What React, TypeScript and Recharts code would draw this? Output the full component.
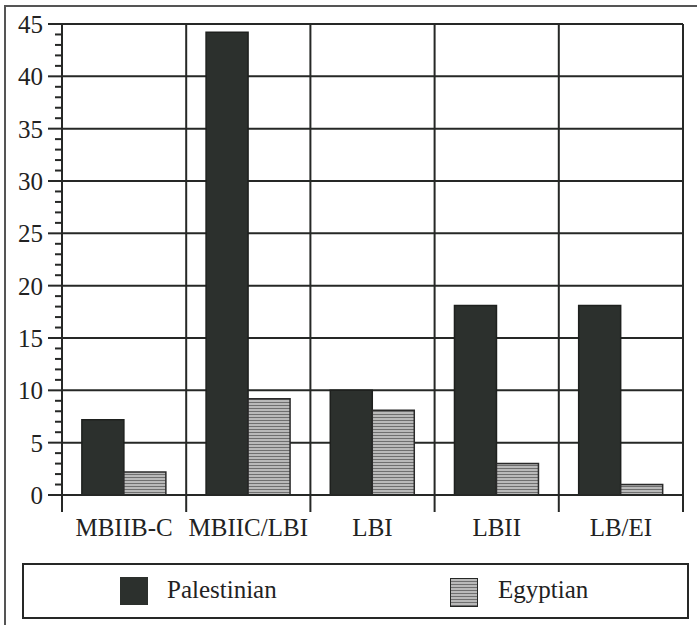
import React from 'react';
import { BarChart, Bar, XAxis, YAxis, CartesianGrid, Legend } from 'recharts';

const categories = ['MBIIB-C', 'MBIIC/LBI', 'LBI', 'LBII', 'LB/EI'];
const palestinian = [7.2, 44.2, 10, 18.1, 18.1];
const egyptian = [2.2, 9.2, 8.1, 3, 1];
const seriesNames = ['Palestinian', 'Egyptian'];
const yMajorTicks = [0, 5, 10, 15, 20, 25, 30, 35, 40, 45];
const yMinorTicks = [
  0, 1, 2, 3, 4, 5, 6, 7, 8, 9, 10, 11, 12, 13, 14, 15, 16, 17, 18, 19, 20, 21, 22,
  23, 24, 25, 26, 27, 28, 29, 30, 31, 32, 33, 34, 35, 36, 37, 38, 39, 40, 41, 42, 43,
  44, 45,
];

const data = categories.map((c, i) => ({
  period: c,
  [seriesNames[0]]: palestinian[i],
  [seriesNames[1]]: egyptian[i],
}));

const INK = '#262826';
const FONT = '"Times New Roman", "Liberation Serif", Tinos, "DejaVu Serif", serif';
const DARK = '#2c302d';

const applyScale = (s: any, v: any): number => {
  if (typeof s === 'function') return s(v);
  if (s && typeof s.map === 'function') return s.map(v);
  if (s && typeof s.scale === 'function') return s.scale(v);
  return NaN;
};

const bandOf = (s: any): number => {
  if (s && typeof s.bandwidth === 'function') return s.bandwidth();
  return NaN;
};

const YTick = (props: any) => {
  const { x, y, payload } = props;
  const v = payload.value;
  const major = v % 5 === 0;
  return (
    <g>
      <line x1={x - (major ? 14 : 7)} x2={x} y1={y} y2={y} stroke={INK} strokeWidth={2} />
      {major && (
        <text x={x - 19} y={y + 9} textAnchor="end" fontSize={25} fontFamily={FONT} fill="#222">
          {v}
        </text>
      )}
    </g>
  );
};

const XTick = (props: any) => {
  const { x, y, payload, index } = props;
  const half = payload && typeof payload.offset === 'number' && payload.offset > 0 ? payload.offset : 0;
  const isLast = index === categories.length - 1;
  return (
    <g>
      {half > 0 && <line x1={x - half} x2={x - half} y1={y} y2={y + 17} stroke={INK} strokeWidth={2} />}
      {half > 0 && isLast && <line x1={x + half} x2={x + half} y1={y} y2={y + 17} stroke={INK} strokeWidth={2} />}
      <text x={x} y={y + 41} textAnchor="middle" fontSize={25} fontFamily={FONT} fill="#222">
        {payload.value}
      </text>
    </g>
  );
};

const LegendBox = () => (
  <div
    style={{
      boxSizing: 'border-box',
      width: 667,
      height: 56,
      border: `2px solid ${INK}`,
      position: 'relative',
      fontFamily: FONT,
      fontSize: 25,
      color: '#222',
      background: '#fff',
    }}
  >
    <div style={{ position: 'absolute', left: 96, top: 12, width: 28, height: 28, background: DARK }} />
    <span style={{ position: 'absolute', left: 143, top: 11, lineHeight: '28px' }}>{seriesNames[0]}</span>
    <svg style={{ position: 'absolute', left: 426, top: 13 }} width={28} height={29}>
      <defs>
        <pattern id="egyPatLegend" width={6} height={3} patternUnits="userSpaceOnUse">
          <rect width={6} height={3} fill="#b9b9b9" />
          <line x1={0} x2={6} y1={0.5} y2={0.5} stroke="#6f6f6f" strokeWidth={1} />
        </pattern>
      </defs>
      <rect x={0.5} y={0.5} width={27} height={28} fill="url(#egyPatLegend)" stroke={INK} strokeWidth={1} />
    </svg>
    <span style={{ position: 'absolute', left: 474, top: 11, lineHeight: '28px' }}>{seriesNames[1]}</span>
  </div>
);

const hGen = (args: any) => {
  const { yAxis, offset } = args;
  const out = yMajorTicks.map((v) => applyScale(yAxis && yAxis.scale, v));
  if (out.every((p) => Number.isFinite(p))) return out;
  return yMajorTicks.map((v) => offset.top + offset.height * (1 - v / 45));
};

const vGen = (args: any) => {
  const { xAxis, offset } = args;
  const s = xAxis && xAxis.scale;
  const starts = categories.map((c) => applyScale(s, c));
  const bw = bandOf(s);
  if (starts.every((p) => Number.isFinite(p)) && Number.isFinite(bw)) {
    return [...starts, starts[starts.length - 1] + bw];
  }
  const n = categories.length;
  return [...categories.map((_, i) => offset.left + (offset.width * i) / n), offset.left + offset.width];
};

export default function App() {
  return (
    <div style={{ position: 'absolute', left: 0, top: 0, width: 697, height: 625, background: '#fff' }}>
      <div style={{ position: 'absolute', left: 4, top: 5, width: 2, height: 620, background: '#555' }} />
      <div style={{ position: 'absolute', left: 4, top: 5, width: 693, height: 2, background: '#555' }} />
      <BarChart
        width={697}
        height={625}
        data={data}
        margin={{ top: 24, right: 14, bottom: 6, left: 0 }}
        barCategoryGap="16%"
        barGap={0}
      >
        <defs>
          <pattern id="egyPat" width={6} height={3} patternUnits="userSpaceOnUse">
            <rect width={6} height={3} fill="#b9b9b9" />
            <line x1={0} x2={6} y1={0.5} y2={0.5} stroke="#6f6f6f" strokeWidth={1} />
          </pattern>
        </defs>
        <CartesianGrid
          stroke={INK}
          strokeWidth={2}
          horizontalCoordinatesGenerator={hGen}
          verticalCoordinatesGenerator={vGen}
        />
        <XAxis
          dataKey="period"
          height={68}
          tickLine={false}
          axisLine={{ stroke: INK, strokeWidth: 2 }}
          tickSize={0}
          tickMargin={0}
          tick={<XTick />}
          interval={0}
        />
        <YAxis
          domain={[0, 45]}
          ticks={yMinorTicks}
          interval={0}
          width={62}
          tickSize={0}
          tickMargin={0}
          tickLine={false}
          axisLine={{ stroke: INK, strokeWidth: 2 }}
          tick={<YTick />}
        />
        <Legend
          verticalAlign="bottom"
          content={<LegendBox />}
          wrapperStyle={{ left: 22, bottom: 6, width: 667, height: 56 }}
        />
        <Bar
          dataKey={seriesNames[0]}
          fill={DARK}
          stroke="#1e201e"
          strokeWidth={1.5}
          isAnimationActive={false}
        />
        <Bar
          dataKey={seriesNames[1]}
          fill="url(#egyPat)"
          stroke="#2a2a2a"
          strokeWidth={1.5}
          isAnimationActive={false}
        />
      </BarChart>
    </div>
  );
}
